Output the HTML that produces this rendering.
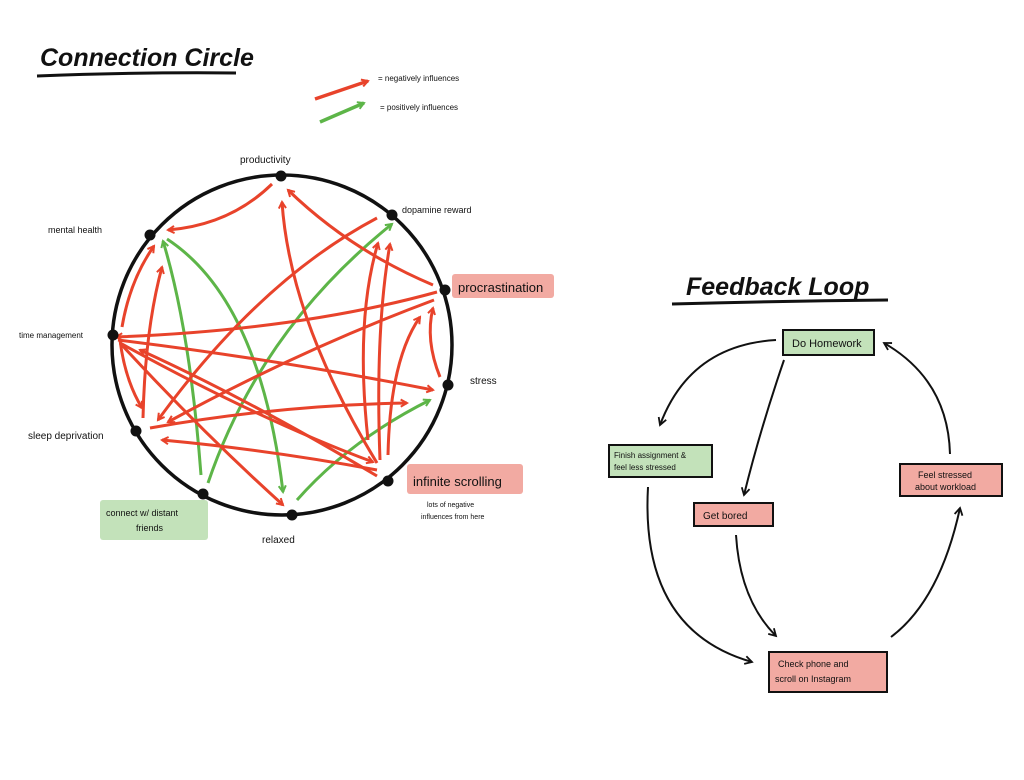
<!DOCTYPE html>
<html><head><meta charset="utf-8"><style>
html,body{margin:0;padding:0;background:#fff;}
svg{display:block;}
text{font-family:"Liberation Sans",sans-serif;fill:#111;}
</style></head><body>
<svg width="1024" height="780" viewBox="0 0 1024 780" xmlns="http://www.w3.org/2000/svg">
<defs>
<marker id="r" viewBox="0 0 10 10" refX="8" refY="5" markerWidth="9" markerHeight="9" orient="auto" markerUnits="userSpaceOnUse"><path d="M1,1 L8,5 L1,9" fill="none" stroke="#e8432b" stroke-width="2.2"/></marker>
<marker id="g" viewBox="0 0 10 10" refX="8" refY="5" markerWidth="9" markerHeight="9" orient="auto" markerUnits="userSpaceOnUse"><path d="M1,1 L8,5 L1,9" fill="none" stroke="#5db548" stroke-width="2.2"/></marker>
<marker id="k" viewBox="0 0 10 10" refX="8" refY="5" markerWidth="10" markerHeight="10" orient="auto" markerUnits="userSpaceOnUse"><path d="M1,1 L8,5 L1,9" fill="none" stroke="#111" stroke-width="1.8"/></marker>
</defs>

<text x="40" y="66" font-size="25" font-style="italic" font-weight="bold">Connection Circle</text>
<path d="M37,76 Q140,72 236,73" stroke="#111" stroke-width="3" fill="none"/>
<text x="686" y="295" font-size="25" font-style="italic" font-weight="bold">Feedback Loop</text>
<path d="M672,304 Q780,301 888,300" stroke="#111" stroke-width="3" fill="none"/>

<path d="M315,99 L368,81" stroke="#e8432b" stroke-width="3.5" fill="none" marker-end="url(#r)"/>
<path d="M320,122 L364,103" stroke="#5db548" stroke-width="3.5" fill="none" marker-end="url(#g)"/>
<text x="378" y="81" font-size="8">= negatively influences</text>
<text x="380" y="110" font-size="8">= positively influences</text>

<circle cx="282" cy="345" r="170" fill="none" stroke="#111" stroke-width="3.5"/>

<g stroke="#5db548" stroke-width="3" fill="none" marker-end="url(#g)">
<path d="M201,475 Q190,330 163,241"/>
<path d="M167,239 Q260,300 283,492"/>
<path d="M208,483 Q260,330 392,224"/>
<path d="M297,500 Q350,440 430,400"/>
</g>
<g stroke="#e8432b" stroke-width="3" fill="none" marker-end="url(#r)">
<path d="M272,184 Q230,225 168,230"/>
<path d="M377,218 Q260,280 158,420"/>
<path d="M433,285 Q350,250 288,190"/>
<path d="M437,292 Q300,330 116,337"/>
<path d="M434,300 Q300,350 168,422"/>
<path d="M377,463 Q290,320 282,202"/>
<path d="M380,460 Q375,330 390,244"/>
<path d="M368,440 Q355,320 378,243"/>
<path d="M388,455 Q390,360 420,317"/>
<path d="M440,377 Q425,340 433,308"/>
<path d="M377,476 Q250,400 140,350"/>
<path d="M377,470 Q270,450 162,440"/>
<path d="M118,340 Q280,360 433,390"/>
<path d="M150,428 Q280,405 407,403"/>
<path d="M120,343 Q200,430 283,505"/>
<path d="M120,340 Q125,380 142,408"/>
<path d="M122,327 Q130,280 154,246"/>
<path d="M143,418 Q145,330 162,267"/>
<path d="M120,343 Q260,420 373,462"/>
</g>
<g fill="#111">
<circle cx="281" cy="176" r="5.5"/><circle cx="392" cy="215" r="5.5"/><circle cx="445" cy="290" r="5.5"/>
<circle cx="448" cy="385" r="5.5"/><circle cx="388" cy="481" r="5.5"/><circle cx="292" cy="515" r="5.5"/>
<circle cx="203" cy="494" r="5.5"/><circle cx="136" cy="431" r="5.5"/><circle cx="113" cy="335" r="5.5"/>
<circle cx="150" cy="235" r="5.5"/>
</g>
<text x="240" y="163" font-size="10">productivity</text>
<text x="402" y="213" font-size="9">dopamine reward</text>
<rect x="452" y="274" width="102" height="24" rx="3" fill="#f2aaa2"/>
<text x="458" y="292" font-size="13">procrastination</text>
<text x="470" y="384" font-size="10">stress</text>
<rect x="407" y="464" width="116" height="30" rx="3" fill="#f2aaa2"/>
<text x="413" y="486" font-size="13">infinite scrolling</text>
<text x="427" y="507" font-size="7">lots of negative</text>
<text x="421" y="519" font-size="7">influences from here</text>
<text x="262" y="543" font-size="10">relaxed</text>
<rect x="100" y="500" width="108" height="40" rx="3" fill="#c3e2ba"/>
<text x="106" y="516" font-size="9">connect w/ distant</text>
<text x="136" y="531" font-size="9">friends</text>
<text x="28" y="439" font-size="10">sleep deprivation</text>
<text x="19" y="338" font-size="8">time management</text>
<text x="48" y="233" font-size="9">mental health</text>

<g stroke="#111" stroke-width="2">
<rect x="783" y="330" width="91" height="25" fill="#c3e2ba"/>
<rect x="609" y="445" width="103" height="32" fill="#c3e2ba"/>
<rect x="694" y="503" width="79" height="23" fill="#f2aaa2"/>
<rect x="900" y="464" width="102" height="32" fill="#f2aaa2"/>
<rect x="769" y="652" width="118" height="40" fill="#f2aaa2"/>
</g>
<text x="792" y="347" font-size="11">Do Homework</text>
<text x="614" y="458" font-size="8">Finish assignment &amp;</text>
<text x="614" y="470" font-size="8">feel less stressed</text>
<text x="703" y="519" font-size="10">Get bored</text>
<text x="918" y="478" font-size="9">Feel stressed</text>
<text x="915" y="490" font-size="9">about workload</text>
<text x="778" y="667" font-size="9">Check phone and</text>
<text x="775" y="682" font-size="9">scroll on Instagram</text>
<g stroke="#111" stroke-width="2" fill="none" marker-end="url(#k)">
<path d="M776,340 Q690,345 660,425"/>
<path d="M784,360 Q760,430 744,495"/>
<path d="M648,487 Q640,630 752,662"/>
<path d="M736,535 Q740,600 776,636"/>
<path d="M891,637 Q940,600 960,508"/>
<path d="M950,454 Q948,380 884,343"/>
</g>
</svg>
</body></html>
